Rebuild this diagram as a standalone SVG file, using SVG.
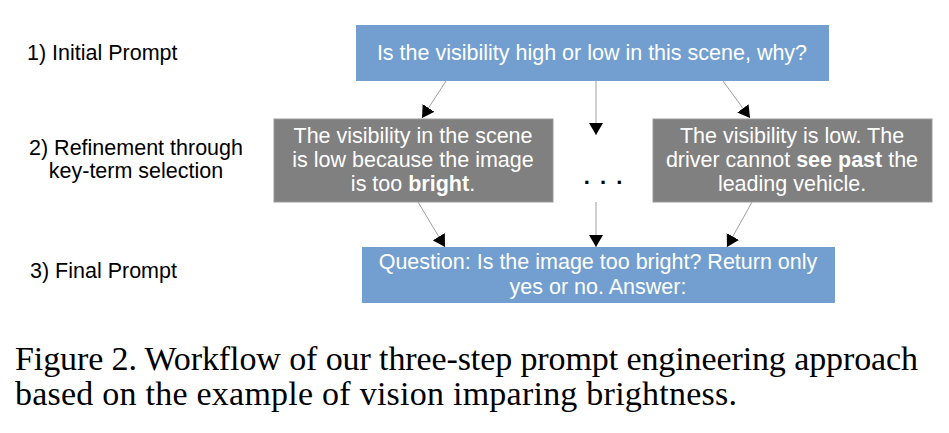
<svg xmlns="http://www.w3.org/2000/svg" width="949" height="433" viewBox="0 0 949 433">
<style>
.lbl{font-family:"Liberation Sans",Arial,sans-serif;font-size:21.5px;fill:#000}
.bx{font-family:"Liberation Sans",Arial,sans-serif;font-size:21.5px;fill:#fff;text-anchor:middle}
.blue{fill:#729fcf}
.gray{fill:#808080;stroke:#999;stroke-width:1}
.cn{stroke:#a0a0a0;stroke-width:1;fill:none;marker-end:url(#ah)}
.cap{font-family:"Liberation Serif","Times New Roman",serif;font-size:34px;fill:#000}
</style>
<defs>
<marker id="ah" viewBox="0 0 12 14" refX="12" refY="7" markerWidth="12" markerHeight="14" markerUnits="userSpaceOnUse" orient="auto">
<path d="M0,0 L12,7 L0,14 Z" fill="#000"/>
</marker>
</defs>
<rect width="949" height="433" fill="#fff"/>
<g id="label1"><text class="lbl" x="27" y="60">1) Initial Prompt</text></g>
<g id="label2"><text class="lbl" x="136" y="155" text-anchor="middle">2) Refinement through</text><text class="lbl" x="136" y="178" text-anchor="middle">key-term selection</text></g>
<g id="label3"><text class="lbl" x="30" y="278">3) Final Prompt</text></g>
<g id="initial"><rect class="blue" x="356" y="25" width="473" height="56"/><text class="bx" x="592" y="60">Is the visibility high or low in this scene, why?</text></g>
<g id="refineLeft"><rect class="gray" x="274" y="119" width="279" height="83"/><text class="bx" x="413" y="143">The visibility in the scene</text><text class="bx" x="413" y="167">is low because the image</text><text class="bx" x="413" y="191">is too <tspan font-weight="bold">bright</tspan>.</text></g>
<g id="refineRight"><rect class="gray" x="653" y="119" width="279" height="83"/><text class="bx" x="792" y="143">The visibility is low. The</text><text class="bx" x="792" y="167">driver cannot <tspan font-weight="bold">see past</tspan> the</text><text class="bx" x="792" y="191">leading vehicle.</text></g>
<g id="ellipsis"><text x="604" y="184" text-anchor="middle" font-family="Liberation Sans,Arial,sans-serif" font-size="22" font-weight="bold" letter-spacing="2">. . .</text></g>
<g id="final"><rect class="blue" x="362" y="247" width="473" height="56"/><text class="bx" x="598" y="269">Question: Is the image too bright? Return only</text><text class="bx" x="598" y="294">yes or no. Answer:</text></g>
<g id="connectors">
<line class="cn" x1="446" y1="81" x2="422" y2="118"/>
<line class="cn" x1="596" y1="81" x2="596" y2="135"/>
<line class="cn" x1="723" y1="81" x2="750" y2="118"/>
<line class="cn" x1="418" y1="202" x2="445" y2="247"/>
<line class="cn" x1="596" y1="202" x2="596" y2="247"/>
<line class="cn" x1="752" y1="202" x2="727" y2="247"/>
</g>
<g id="caption"><text class="cap" x="15" y="370" textLength="903" lengthAdjust="spacing">Figure 2. Workflow of our three-step prompt engineering approach</text><text class="cap" x="15" y="405" textLength="722" lengthAdjust="spacing">based on the example of vision imparing brightness.</text></g>
</svg>
